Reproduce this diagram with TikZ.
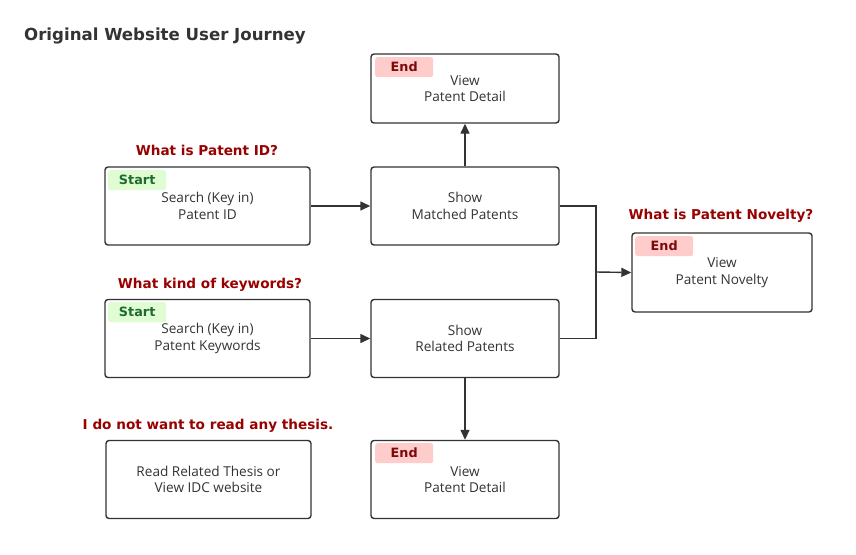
\documentclass[tikz,border=0pt]{standalone}
\usepackage{fontspec}
\setmainfont{Open Sans}
\newfontfamily\labfont{DejaVu Sans}
\usetikzlibrary{arrows.meta}
\definecolor{ln}{HTML}{333333}
\definecolor{qred}{HTML}{990000}
\definecolor{startfill}{HTML}{DFFCD2}
\definecolor{starttext}{HTML}{1E6B2E}
\definecolor{endfill}{HTML}{FFCCCC}
\definecolor{endtext}{HTML}{7A0A0A}
\tikzset{
  card/.style={draw=ln, line width=1.4pt, rounded corners=3pt, fill=white, minimum width=#1, minimum height=78pt, inner sep=0pt, align=center, font=\fontsize{13.6}{16.5}\selectfont, text=ln},
  card/.default=205pt,
  badge/.style={rounded corners=2.5pt, minimum width=58pt, minimum height=20pt, inner sep=0pt, font=\labfont\bfseries\fontsize{12.8}{14}\selectfont},
  startb/.style={badge, fill=startfill, text=starttext},
  endb/.style={badge, fill=endfill, text=endtext},
  qlabel/.style={font=\labfont\bfseries\fontsize{13.6}{15}\selectfont, text=qred},
  conn/.style={draw=ln, line width=1.4pt, -{Triangle[length=10pt,width=9pt]}},
}
\begin{document}
\begin{tikzpicture}[x=1pt,y=-1pt]
\useasboundingbox (0,0) rectangle (856,554);
\fill[white] (0,0) rectangle (856,554);
\node[anchor=west, inner sep=0pt, font=\labfont\bfseries\fontsize{16.6}{19}\selectfont, text=ln] (title) at (24,36) {Original Website User Journey};

% boxes
\node[card=188pt, minimum height=69pt] (endtop) at (465,88.5) {View\\Patent Detail};
\node[card] (searchid) at (207.5,206) {Search (Key in)\\Patent ID};
\node[card=188pt] (matched) at (465,206) {Show\\Matched Patents};
\node[card] (searchkw) at (207.5,338.5) {Search (Key in)\\Patent Keywords};
\node[card=188pt] (related) at (465,338.5) {Show\\Related Patents};
\node[card] (thesis) at (208.5,479.5) {Read Related Thesis or\\View IDC website};
\node[card=188pt] (endbot) at (465,479.5) {View\\Patent Detail};
\node[card=180pt, minimum height=79pt] (novelty) at (722,272.5) {View\\Patent Novelty};

% badges
\node[endb, anchor=north west] (b1) at (375,57) {End};
\node[startb, anchor=north west] (b2) at (108,170) {Start};
\node[startb, anchor=north west] (b3) at (108,302) {Start};
\node[endb, anchor=north west] (b4) at (375,443) {End};
\node[endb, anchor=north west] (b5) at (635,236) {End};

% question labels
\node[qlabel] (q1) at (207,150) {What is Patent ID?};
\node[qlabel] (q2) at (210,285) {What kind of keywords?};
\node[qlabel] (q3) at (208,426) {I do not want to read any thesis.};
\node[qlabel] (q4) at (721,216) {What is Patent Novelty?};

% connectors
\coordinate (j) at (596,272);
\draw[conn] (searchid.east) -- (matched.west);
\draw[conn] (searchkw.east) -- (related.west);
\draw[conn] (matched.north) -- (endtop.south);
\draw[conn] (related.south) -- (endbot.north);
\draw[draw=ln, line width=1.4pt] (matched.east) -| (j);
\draw[draw=ln, line width=1.4pt] (related.east) -| (j);
\draw[conn] (j) -- (novelty.west);
\end{tikzpicture}
\end{document}
